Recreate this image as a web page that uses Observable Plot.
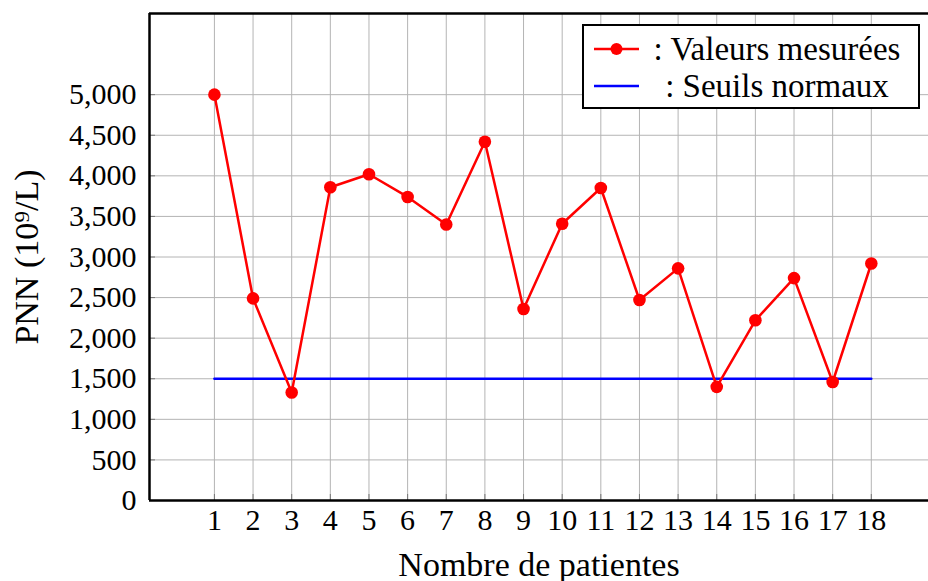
<!DOCTYPE html>
<html>
<head>
<meta charset="utf-8">
<script src="https://cdn.jsdelivr.net/npm/d3@7"></script>
<script src="https://cdn.jsdelivr.net/npm/@observablehq/plot@0.6"></script>
<style>
  body { margin: 0; background: #fff; }
  #chart { position: relative; width: 928px; height: 581px; overflow: hidden; font-family: "Liberation Serif", serif; }
  #legend {
    position: absolute; left: 582px; top: 24px; width: 334px; height: 81px;
    border: 2px solid #000; background: #fff; box-sizing: content-box;
    font-size: 33px; color: #000;
  }
  #legend .row { position: absolute; left: 0; right: 0; height: 38px; }
  #legend svg { position: absolute; left: 8px; top: 0; }
  #legend .txt { position: absolute; left: 56px; right: 4px; text-align: center; line-height: 38px; white-space: nowrap; }
</style>
</head>
<body>
<div id="chart">
  <div id="legend">
    <div class="row" style="top:4px">
      <svg width="48" height="38"><line x1="2" x2="47" y1="19" y2="19" stroke="#ff0000" stroke-width="2.5"/><circle cx="24.5" cy="19" r="6" fill="#ff0000"/></svg>
      <div class="txt">: Valeurs mesurées</div>
    </div>
    <div class="row" style="top:41px">
      <svg width="48" height="38"><line x1="2" x2="47" y1="19" y2="19" stroke="#0000ff" stroke-width="2.5"/></svg>
      <div class="txt">: Seuils normaux</div>
    </div>
  </div>
</div>
<script>
// Patient index and measured PNN values (10^9/L)
const patients = [1, 2, 3, 4, 5, 6, 7, 8, 9, 10, 11, 12, 13, 14, 15, 16, 17, 18];
const pnn = [5000, 2490, 1330, 3860, 4020, 3740, 3400, 4420, 2360, 3410, 3850, 2470, 2860, 1400, 2220, 2740, 1460, 2920];

// Normal threshold, drawn from the first to the last patient
const seuilPatients = [1, 18];
const seuilValeurs = [1500, 1500];

// Axis ticks
const yTicks = [0, 500, 1000, 1500, 2000, 2500, 3000, 3500, 4000, 4500, 5000];
const xDomain = [-0.68, 19.48];
const yDomain = [0, 6000];

const mesures = patients.map((p, i) => ({patient: p, pnn: pnn[i]}));
const seuils = seuilPatients.map((p, i) => ({patient: p, pnn: seuilValeurs[i]}));

const fmt = d3.format(",");
const gridColor = "#b4b4b4";

const chart = Plot.plot({
  width: 928,
  height: 581,
  marginLeft: 149,
  marginRight: 0,
  marginTop: 13,
  marginBottom: 81,
  style: {fontFamily: "'Liberation Serif', serif", fontSize: "30px", color: "#000", background: "#fff"},
  x: {domain: xDomain},
  y: {domain: yDomain},
  marks: [
    Plot.gridX(patients, {stroke: gridColor, strokeOpacity: 1, strokeWidth: 1}),
    Plot.gridY(yTicks, {stroke: gridColor, strokeOpacity: 1, strokeWidth: 1}),
    // inward tick marks
    Plot.axisX(patients, {tickSize: -6, tickFormat: () => "", stroke: "#777", label: null}),
    Plot.axisY(yTicks, {tickSize: -6, tickFormat: () => "", stroke: "#777", label: null}),
    // tick labels and axis titles
    Plot.axisX(patients, {
      tickSize: 0, tickPadding: 8, tickFormat: d => String(d),
      label: "Nombre de patientes", labelAnchor: "center", labelOffset: 75, labelArrow: "none",
      fontSize: 30
    }),
    Plot.axisY(yTicks, {
      tickSize: 0, tickPadding: 13, tickFormat: fmt,
      label: "PNN (10⁹/L)", labelAnchor: "center", labelOffset: 136, labelArrow: "none",
      fontSize: 30
    }),
    Plot.line(seuils, {x: "patient", y: "pnn", stroke: "#0000ff", strokeWidth: 2.5}),
    Plot.line(mesures, {x: "patient", y: "pnn", stroke: "#ff0000", strokeWidth: 2.5}),
    Plot.dot(mesures, {x: "patient", y: "pnn", r: 6.3, fill: "#ff0000"}),
    Plot.ruleX([xDomain[0]], {stroke: "#000", strokeWidth: 2.5}),
    Plot.ruleY(yDomain, {stroke: "#000", strokeWidth: 2.5})
  ]
});

// Larger type for the two axis titles only
chart.querySelectorAll("g[aria-label='x-axis label'] text, g[aria-label='y-axis label'] text").forEach(t => t.setAttribute("font-size", "34"));

document.getElementById("chart").prepend(chart);
</script>
</body>
</html>
